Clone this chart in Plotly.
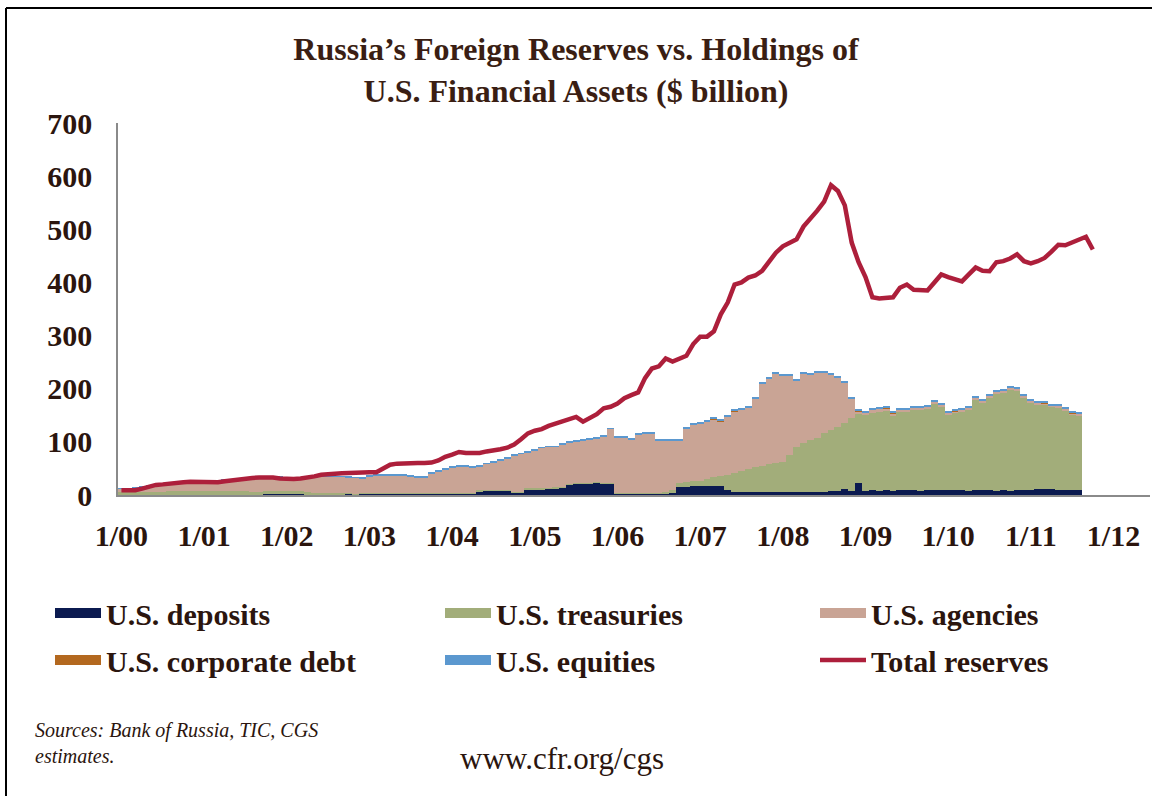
import plotly.graph_objects as go

# monthly data, Jan 2000 onward ($ billion)
tick_months = [0, 12, 24, 36, 48, 60, 72, 84, 96, 108, 120, 132, 144]
tick_labels = ["1/00", "1/01", "1/02", "1/03", "1/04", "1/05", "1/06",
               "1/07", "1/08", "1/09", "1/10", "1/11", "1/12"]

deposits = [
    0, 0, 0, 0, 0, 0, 0, 0, 0, 0, 0, 0,
    0, 0, 0, 0, 0, 0, 0, 0, 0, 1, 1, 1,
    2, 2, 2, 0.5, 0.5, 0.5, 0.5, 0.5, 0.5, 2, 0.5, 2,
    2, 2, 2, 2, 2, 2, 2, 2, 2, 2, 2, 2,
    2, 2, 2, 2, 7, 8, 8, 8, 8, 4, 4, 11,
    11, 11, 12, 13, 14, 20, 21, 22, 22, 23, 22, 22,
    2, 2, 2, 2, 2, 2, 2, 2, 3, 15, 15, 17,
    17, 17, 17, 17, 9, 6, 5, 5, 5, 5, 5, 5,
    5, 5, 5, 5, 5, 5, 5, 8, 8, 12, 8, 22,
    8, 9, 8, 9, 8, 9, 10, 9, 8, 9, 9, 10,
    10, 10, 9, 8, 9, 10, 9, 8, 9, 8, 9, 9,
    10, 11, 11, 11, 10, 10, 9, 9,
]
treasuries = [
    5, 5, 5, 6, 6, 6, 6, 7, 7, 7, 7, 7,
    7, 7, 7, 7, 7, 7, 7, 6, 6, 6, 6, 6,
    5, 5, 5, 5, 4, 4, 3, 3, 3, 2, 2, 2,
    2, 2, 2, 2, 1.5, 1.5, 1.5, 1.5, 1.5, 1.5, 1.5, 1.5,
    1.5, 1.5, 1.5, 1.5, 1.5, 1.5, 1.5, 1.5, 1.5, 1.5, 1.5, 1.5,
    1.5, 1.5, 1.5, 1.5, 1.5, 1.5, 1.5, 1.5, 1.5, 1.5, 1.5, 1.5,
    1.5, 1.5, 1.5, 1.5, 1.5, 1.5, 2, 4, 7, 7, 9, 10,
    10, 13, 16, 19, 29, 35, 40, 44, 47, 50, 53, 55,
    57, 70, 85, 93, 99, 103, 112, 114, 120, 123, 137, 130,
    142, 146, 149, 149, 141, 147, 147, 151, 152, 153, 162, 156,
    141, 144, 147, 152, 170, 163, 175, 183, 184, 191, 188, 175,
    164, 160, 159, 155, 155, 149, 142, 141,
]
agencies = [
    7, 7, 8, 9, 11, 13, 14, 15, 16, 18, 19, 20,
    20, 19, 20, 21, 22, 23, 23, 25, 26, 26, 26, 26,
    25, 25, 25, 27.5, 28.5, 29.5, 30.5, 30.5, 30.5, 29, 29.5, 27,
    30.5, 32.5, 32.5, 32.5, 33, 33, 31, 30, 30, 37, 41, 45,
    48, 50, 50, 49, 46, 49, 52, 55, 59, 69, 72, 67,
    72, 76, 77, 76, 80, 77, 78, 79, 81, 82, 87, 101,
    105, 105, 101, 110, 113, 112, 98.5, 96.5, 92, 80, 102, 105,
    107, 108, 110, 103, 110, 117, 116, 115, 129, 154, 161, 168,
    163, 149, 125, 130, 122, 122, 113, 104, 93, 76, 36, 6,
    5, 5, 5, 4, 4, 4, 4, 4, 4, 4, 4, 4,
    4, 4, 4, 4, 4, 4, 3, 3, 3, 3, 3, 3,
    3, 3, 3, 3, 3, 3, 3, 3,
]
corporate_debt = [
    0, 0, 0, 0, 0, 0, 0, 0, 0, 0, 0, 0,
    0, 0, 0, 0, 0, 0, 0, 0, 0, 0, 0, 0,
    0, 0, 0, 0, 0, 0, 0, 0, 0, 0, 0, 0,
    0, 0, 0, 0, 0, 0, 0, 0, 0, 0, 0, 0,
    0, 0, 0, 0, 0, 0, 0, 0, 0, 0, 0, 0,
    0, 0, 0, 0, 0, 0, 0, 0, 0, 0, 0, 0,
    0, 0, 0, 0, 0, 0, 0, 0, 0, 0, 0, 0,
    0.3, 0.3, 0.3, 0.3, 0.3, 0.3, 0.3, 0.3, 0.3, 0.3, 0.3, 0.3,
    0.3, 0.3, 0.3, 0.3, 0.3, 0.3, 0.3, 0.3, 0.3, 0.3, 0.3, 0.3,
    0.3, 0.3, 0.3, 2, 2, 0.3, 0.3, 0.3, 0.3, 0.3, 0.3, 0.3,
    0.3, 0.3, 0.3, 0.3, 0.3, 0.3, 0.3, 0.3, 0.3, 0.3, 0.3, 0.3,
    0.3, 0.3, 0.3, 0.3, 0.3, 0.3, 0.3, 0.3,
]
equities = [
    1, 1, 1, 1, 1, 1, 1, 1, 1, 1, 1, 1,
    1, 1, 1, 1, 1, 1, 1, 1, 1, 1, 1, 1,
    1, 1, 1, 1, 1, 1, 1, 1, 1, 1, 1, 1,
    1.5, 1.5, 1.5, 1.5, 1.5, 1.5, 1.5, 1.5, 1.5, 1.5, 1.5, 1.5,
    1.5, 1.5, 1.5, 1.5, 1.5, 1.5, 1.5, 1.5, 1.5, 1.5, 1.5, 1.5,
    1.5, 1.5, 1.5, 1.5, 1.5, 1.5, 1.5, 1.5, 1.5, 1.5, 1.5, 1.5,
    1.5, 1.5, 1.5, 1.5, 1.5, 1.5, 1.5, 1.5, 2, 2, 2, 2,
    2, 2, 2, 2, 2, 2, 2, 2, 2, 2, 2, 2,
    2, 2, 2, 2, 2, 2, 2, 2, 2, 2, 2, 2,
    2, 2, 2, 2, 2, 2, 2, 2, 2, 2, 2, 2,
    2, 2, 2, 2, 2, 2, 2, 2, 2, 2, 2, 2,
    2, 2, 2, 2, 2, 2, 2, 2,
]
total_reserves = [
    9, 8, 9, 12, 16, 19, 20, 22, 23, 24, 25, 25,
    24, 23, 24, 26, 28, 29, 31, 32, 33, 34, 33, 31,
    30, 30, 31, 32, 35, 38, 40, 40, 41, 42, 43, 43,
    43, 43, 50, 57, 59, 60, 60, 60, 60, 61, 65, 72,
    76, 81, 79, 79, 79, 82, 83, 86, 89, 95, 105, 116,
    121, 124, 130, 134, 138, 144, 147, 138, 146, 152, 163, 166,
    172, 182, 188, 193, 220, 238, 242, 257, 251, 256, 262, 284,
    298, 298, 308, 340, 362, 396, 400, 409, 413, 422, 440, 456,
    468, 474, 481, 505, 519, 535, 552, 583, 572, 545, 475, 438,
    410, 372, 370, 371, 372, 390, 396, 386, 385, 385, 400, 415,
    410, 405, 402, 415, 428, 422, 421, 438, 440, 445, 453, 440,
    436, 440, 446, 458, 471, 470, 476, 482, 486, 462,
]

W, H = 1152, 796
ML, MR, MT, MB = 118, 2, 123, 301
PW, PH = W - ML - MR, H - MT - MB


def px(x):  # pixel -> paper x
    return (x - ML) / PW


def py(y):  # pixel -> paper y
    return (H - MB - y) / PH


TXT = "#2b150e"
SERIF = "Liberation Serif"

series = [
    ("U.S. deposits", deposits, "#0b1a50", "legend"),
    ("U.S. treasuries", treasuries, "#a2ad7a", "legend2"),
    ("U.S. agencies", agencies, "#c9a495", "legend3"),
    ("U.S. corporate debt", corporate_debt, "#b3681f", "legend"),
    ("U.S. equities", equities, "#5b98cf", "legend2"),
]

fig = go.Figure()
for name, vals, col, leg in series:
    fig.add_trace(go.Bar(
        x=list(range(len(vals))), y=vals, name=name, legend=leg,
        legendgroup=name, showlegend=False,
        marker=dict(color=col, line=dict(width=0)),
    ))
    # wide swatch for the legend
    fig.add_trace(go.Scatter(
        x=[None], y=[None], mode="lines", name=name, legend=leg,
        legendgroup=name, line=dict(color=col, width=13),
    ))

fig.add_trace(go.Scatter(
    x=list(range(len(total_reserves))), y=total_reserves, mode="lines",
    name="Total reserves", legend="legend3", legendgroup="Total reserves",
    line=dict(color="#ad1f3b", width=4.5),
))

leg_common = dict(
    orientation="v", yanchor="top", xanchor="left",
    traceorder="grouped", tracegroupgap=5, itemwidth=46,
    bgcolor="rgba(0,0,0,0)",
    font=dict(family=SERIF, size=30, color=TXT, weight="bold"),
)

fig.update_layout(
    width=W, height=H, autosize=False,
    margin=dict(l=ML, r=MR, t=MT, b=MB),
    paper_bgcolor="white", plot_bgcolor="white",
    barmode="stack", bargap=0,
    title=dict(
        text="Russia’s Foreign Reserves vs. Holdings of<br>U.S. Financial Assets ($ billion)",
        x=0.5, xanchor="center", y=1 - 60 / H, yanchor="top",
        font=dict(family=SERIF, size=32, color="#3a1e13", weight="bold"),
    ),
    xaxis=dict(
        range=[-0.5, 149.3], tickmode="array", tickvals=tick_months,
        ticktext=tick_labels, showgrid=False, zeroline=False,
        showline=True, linecolor="#8a8a8a", linewidth=1.5,
        ticks="outside", ticklen=13, tickcolor="rgba(0,0,0,0)",
        tickfont=dict(family=SERIF, size=30, color=TXT, weight="bold"),
        automargin=False,
    ),
    yaxis=dict(
        range=[0, 700], tickvals=[0, 100, 200, 300, 400, 500, 600, 700],
        showgrid=False, zeroline=False, showline=True,
        linecolor="#8a8a8a", linewidth=1.5,
        ticks="outside", ticklen=18, tickcolor="rgba(0,0,0,0)",
        tickfont=dict(family=SERIF, size=30, color=TXT, weight="bold"),
        automargin=False,
    ),
    legend=dict(x=px(50), y=py(587), **leg_common),
    legend2=dict(x=px(440), y=py(587), **leg_common),
    legend3=dict(x=px(815), y=py(587), **leg_common),
    annotations=[
        dict(text="<i>Sources: Bank of Russia, TIC, CGS<br>estimates.</i>",
             x=px(33), y=py(717), xref="paper", yref="paper",
             xanchor="left", yanchor="top", align="left", showarrow=False,
             font=dict(family=SERIF, size=20, color=TXT)),
        dict(text="www.cfr.org/cgs", x=px(562), y=py(758), xref="paper",
             yref="paper", xanchor="center", yanchor="middle",
             showarrow=False,
             font=dict(family=SERIF, size=31, color=TXT)),
    ],
    shapes=[
        dict(type="line", xref="paper", yref="paper", x0=px(6), x1=px(1160),
             y0=py(8), y1=py(8), line=dict(color="black", width=2)),
        dict(type="line", xref="paper", yref="paper", x0=px(6), x1=px(6),
             y0=py(8), y1=py(800), line=dict(color="black", width=2)),
    ],
)

fig.write_html("out.html", config={"displayModeBar": False},
               post_script="document.body.style.margin='0px';")
